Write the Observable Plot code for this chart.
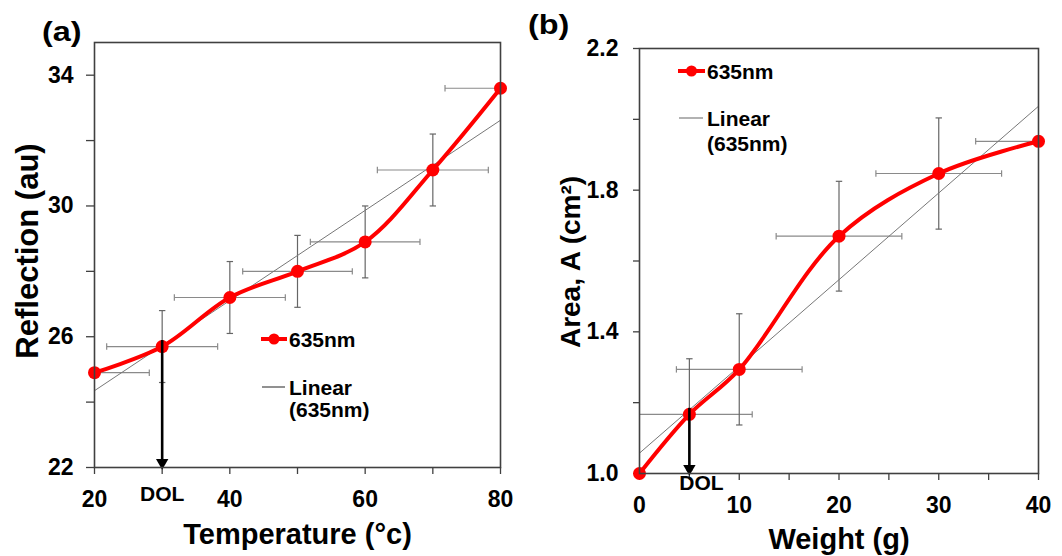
<!DOCTYPE html>
<html><head><meta charset="utf-8">
<script src="https://cdn.jsdelivr.net/npm/d3@7"></script>
<script src="https://cdn.jsdelivr.net/npm/@observablehq/plot@0.6"></script>
<style>
body{margin:0;background:#fff;font-family:"Liberation Sans",Arial,sans-serif;}
#root{position:relative;width:1062px;height:556px;overflow:hidden;background:#fff}
.panel{position:absolute;top:0}
.plab{position:absolute;font-weight:bold;font-size:27px;line-height:1;color:#000;transform:scaleX(1.2);transform-origin:0 0}
.legt{position:absolute;font-weight:bold;font-size:21px;color:#000;line-height:1;transform:translateY(-50%);white-space:nowrap}
#over{position:absolute;left:0;top:0;pointer-events:none}
</style></head>
<body><div id="root"></div>
<script>
// ---- Panel (a) data ----
const tempA = [20, 30, 40, 50, 60, 70, 80];
const reflA = [24.9, 25.7, 27.2, 28.0, 28.9, 31.1, 33.6];
const xErrA = [8.1, 8.2, 8.2, 8.1, 8.1, 8.2, 8.2];
const yErrA = [null, 1.1, 1.1, 1.1, 1.1, 1.1, null];
const dolA = 30;
const yDomainA = [22, 35];
const xDomainA = [20, 80];
const yTicksA = [22, 24, 26, 28, 30, 32, 34];
const yLabelsA = [22, 26, 30, 34];
const xTicksA = [20, 30, 40, 50, 60, 70, 80];
const xLabelsA = [20, 40, 60, 80];

// ---- Panel (b) data ----
const weightB = [0, 5, 10, 20, 30, 40];
const areaB = [1.0, 1.167, 1.294, 1.67, 1.847, 1.938];
const xErrB = [null, 6.3, 6.3, 6.3, 6.3, 6.3];
const yErrB = [null, 0.157, 0.157, 0.155, 0.157, null];
const dolB = 5;
const yDomainB = [1.0, 2.2];
const xDomainB = [0, 40];
const yTicksB = [1.0, 1.2, 1.4, 1.6, 1.8, 2.0, 2.2];
const yLabelsB = [1.0, 1.4, 1.8, 2.2];
const xTicksB = [0, 5, 10, 15, 20, 25, 30, 35, 40];
const xLabelsB = [0, 10, 20, 30, 40];

const seriesName = "635nm";
const fitName1 = "Linear";
const fitName2 = "(635nm)";

const RED = "#ff0000";
const AXIS = "#404040";
const vbar = {draw(ctx, size){const r = Math.sqrt(size/Math.PI); ctx.moveTo(0,-r); ctx.lineTo(0,r);}};
const hbar = {draw(ctx, size){const r = Math.sqrt(size/Math.PI); ctx.moveTo(-r,0); ctx.lineTo(r,0);}};

function panel(cfg){
  const rows = cfg.xs.map((x,i)=>({x, y: cfg.ys[i], xe: cfg.xe[i], ye: cfg.ye[i]}));
  const hx = rows.filter(d=>d.xe != null);
  const vy = rows.filter(d=>d.ye != null);
  const dolVal = cfg.ys[cfg.xs.indexOf(cfg.dol)];
  const fmtY = d => cfg.yLabels.some(v=>Math.abs(v-d)<1e-9) ? cfg.yFmt(d) : "";
  const fmtX = d => cfg.xLabels.includes(d) ? String(d) : "";
  return Plot.plot({
    width: cfg.width, height: 556,
    marginLeft: cfg.ml, marginRight: cfg.mr, marginTop: cfg.mt, marginBottom: cfg.mb,
    style: {fontFamily: '"Liberation Sans", Arial, sans-serif', background: "transparent", color: AXIS, overflow: "visible"},
    x: {domain: cfg.xDomain},
    y: {domain: cfg.yDomain},
    marks: [
      Plot.axisY({ticks: cfg.yTicks, tickFormat: fmtY, tickSize: cfg.yTick, tickPadding: cfg.yPad, fontSize: 23, fontWeight: "bold", fill: "#000", label: null, stroke: AXIS, strokeWidth: 1.3}),
      Plot.axisX({ticks: cfg.xTicks, tickFormat: fmtX, tickSize: 7, tickPadding: 16, fontSize: 23, fontWeight: "bold", fill: "#000", label: null, stroke: AXIS, strokeWidth: 1.3}),
      // error bars
      Plot.link(hx, {x1: d=>d.x-d.xe, x2: d=>d.x+d.xe, y1: "y", y2: "y", stroke: "#8a8a8a", strokeWidth: 1.2, clip: true}),
      Plot.dot(hx, {x: d=>d.x-d.xe, y: "y", symbol: vbar, r: 3.2, stroke: "#8a8a8a", strokeWidth: 1.2, clip: true}),
      Plot.dot(hx, {x: d=>d.x+d.xe, y: "y", symbol: vbar, r: 3.2, stroke: "#8a8a8a", strokeWidth: 1.2, clip: true}),
      Plot.link(vy, {x1: "x", x2: "x", y1: d=>d.y-d.ye, y2: d=>d.y+d.ye, stroke: "#666", strokeWidth: 1.2, clip: true}),
      Plot.dot(vy, {x: "x", y: d=>d.y-d.ye, symbol: hbar, r: 3.2, stroke: "#666", strokeWidth: 1.2, clip: true}),
      Plot.dot(vy, {x: "x", y: d=>d.y+d.ye, symbol: hbar, r: 3.2, stroke: "#666", strokeWidth: 1.2, clip: true}),
      // linear fit
      Plot.linearRegressionY(rows, {x: "x", y: "y", stroke: "#777", strokeWidth: 1, ci: 0}),
      // smooth series
      Plot.line(rows, {x: "x", y: "y", stroke: RED, strokeWidth: 4, curve: "catmull-rom"}),
      Plot.dot(rows, {x: "x", y: "y", r: 6.5, fill: RED}),
      // DOL arrow
      Plot.ruleX([cfg.dol], {y1: dolVal, y2: cfg.yDomain[0], stroke: "#000", strokeWidth: 2.6, dy: -6}),
      Plot.dot([cfg.dol], {x: d=>d, y: cfg.yDomain[0], symbol: "triangle", rotate: 180, r: 4.6, fill: "#000", dy: -5}),
      Plot.text([cfg.dol], {x: d=>d, frameAnchor: "bottom", dy: cfg.dolDy, dx: cfg.dolDx, text: ()=>"DOL", fontSize: 21, fontWeight: "bold", fill: "#000"}),
      Plot.frame({stroke: AXIS, strokeWidth: 1.6}),
      // axis titles
      Plot.text([cfg.yLabel], {frameAnchor: "left", textAnchor: "middle", lineAnchor: "middle", rotate: -90, dx: cfg.yLabDx, dy: cfg.yLabDy, text: d=>d, fontSize: cfg.yLabSize, fontWeight: "bold", fill: "#000"}),
      Plot.text([cfg.xLabel], {frameAnchor: "bottom", textAnchor: "middle", lineAnchor: "middle", dy: cfg.xLabDy, text: d=>d, fontSize: 29, fontWeight: "bold", fill: "#000"})
    ]
  });
}

const root = document.getElementById("root");

const a = panel({xs: tempA, ys: reflA, xe: xErrA, ye: yErrA, dol: dolA,
  xDomain: xDomainA, yDomain: yDomainA, yTicks: yTicksA, yLabels: yLabelsA, xTicks: xTicksA, xLabels: xLabelsA,
  yFmt: d=>String(d), width: 530, ml: 94, mr: 30, mt: 42, mb: 89, yTick: 8, yPad: 13, dolDy: 33, dolDx: 0,
  yLabel: "Reflection (au)", xLabel: "Temperature (°c)", yLabDx: -66, yLabDy: -4, yLabSize: 31, xLabDy: 67});
a.classList.add("panel"); a.style.left = "0px";
root.appendChild(a);

const b = panel({xs: weightB, ys: areaB, xe: xErrB, ye: yErrB, dol: dolB,
  xDomain: xDomainB, yDomain: yDomainB, yTicks: yTicksB, yLabels: yLabelsB, xTicks: xTicksB, xLabels: xLabelsB,
  yFmt: d=>d.toFixed(1), width: 532, ml: 109, mr: 24, mt: 48, mb: 83, yTick: 6, yPad: 15, dolDy: 16, dolDx: 12,
  yLabel: "Area, A (cm²)", xLabel: "Weight (g)", yLabDx: -68, yLabDy: 1, yLabSize: 28, xLabDy: 66});
b.classList.add("panel"); b.style.left = "530px";
root.appendChild(b);

function addText(cls, txt, x, y){
  const d = document.createElement("div"); d.className = cls; d.textContent = txt;
  d.style.left = x+"px"; d.style.top = y+"px"; root.appendChild(d);
}
addText("plab", "(a)", 42, 19);
addText("plab", "(b)", 528, 12);

// legends: swatches in an overlay svg, labels as text
const over = d3.select(root).append("svg").attr("id","over").attr("width",1062).attr("height",556);
function addLegend(x0, x1, yS, yL1, yL2, tx, lineColor){
  over.append("line").attr("x1",x0).attr("x2",x1).attr("y1",yS).attr("y2",yS).attr("stroke",RED).attr("stroke-width",4);
  over.append("circle").attr("cx",(x0+x1)/2).attr("cy",yS).attr("r",5.5).attr("fill",RED);
  over.append("line").attr("x1",x0+1).attr("x2",x1-2).attr("y1",yL1).attr("y2",yL1).attr("stroke",lineColor).attr("stroke-width",1.3);
  addText("legt", seriesName, tx, yS);
  addText("legt", fitName1, tx, yL1);
  addText("legt", fitName2, tx, yL2);
}
addLegend(261, 287, 339, 387, 409, 289, "#555");
addLegend(678, 705, 71, 118, 143, 707, "#888");
</script></body></html>
